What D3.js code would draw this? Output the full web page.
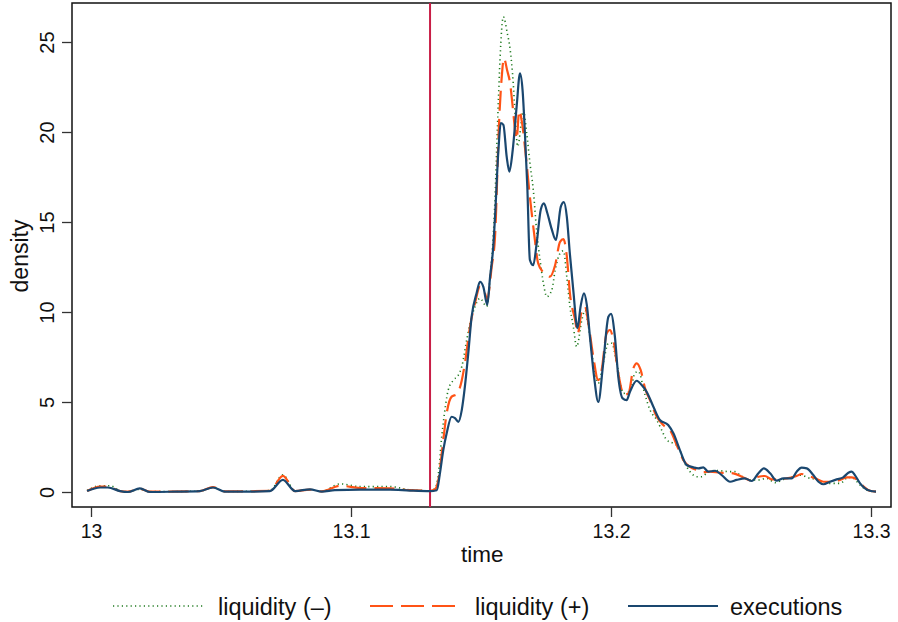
<!DOCTYPE html>
<html lang="en">
<head>
<meta charset="utf-8" />
<title>Density of liquidity and executions</title>
<script src="https://d3js.org/d3.v7.min.js"></script>
<style>
    body { margin: 0; padding: 0; background: #fff; }
    svg { display: block; font-family: "Liberation Sans", Arial, Helvetica, sans-serif; }
</style>
</head>
<body>
<svg id="chart"></svg>
<script>
    var w = 898;
    var h = 622;

    // ticks
    var xTicks = [13, 13.1, 13.2, 13.3];
    var xTickLabels = ["13", "13.1", "13.2", "13.3"];
    var yTicks = [0, 5, 10, 15, 20, 25];
    var eventTime = 13.1304;

    // series: [time, density]
    var liqMinus = [
        [12.9985, 0.08], [13.0035, 0.35], [13.0073, 0.35], [13.0112, 0.07], [13.0142, 0.02],
        [13.0188, 0.15], [13.0227, 0.02], [13.0419, 0.05], [13.0469, 0.25], [13.0515, 0.03],
        [13.0688, 0.08], [13.0738, 0.95], [13.0785, 0.05], [13.0842, 0.12], [13.0888, 0.05],
        [13.0958, 0.45], [13.1035, 0.3], [13.115, 0.3], [13.1227, 0.12], [13.1304, 0.07],
        [13.1323, 0.2], [13.1336, 1.0], [13.1349, 3.07], [13.1358, 4.2], [13.1374, 5.67],
        [13.1393, 6.2], [13.1413, 6.5], [13.1426, 6.96], [13.1445, 8.44], [13.1458, 9.37],
        [13.1477, 10.3], [13.1496, 10.76], [13.1522, 10.3], [13.1535, 11.96], [13.155, 15.0],
        [13.1567, 21.8], [13.1573, 24.0], [13.1586, 26.4], [13.1601, 25.5], [13.1612, 24.6],
        [13.1624, 22.7], [13.1631, 21.0], [13.1641, 19.2], [13.1663, 21.2], [13.1676, 19.9],
        [13.1688, 18.3], [13.1701, 16.8], [13.1714, 14.5], [13.1727, 12.9], [13.174, 11.6],
        [13.1753, 10.85], [13.1772, 11.2], [13.1785, 12.3], [13.1804, 13.26], [13.1817, 13.4],
        [13.183, 11.96], [13.1842, 10.3], [13.1855, 9.2], [13.1868, 8.07], [13.1888, 9.56],
        [13.19, 10.1], [13.1913, 9.2], [13.1932, 7.15], [13.1951, 6.04], [13.197, 7.15],
        [13.199, 8.26], [13.2003, 8.26], [13.2022, 7.15], [13.2048, 5.48], [13.2073, 5.6],
        [13.2092, 6.6], [13.2105, 6.7], [13.2131, 5.39], [13.215, 4.56], [13.2176, 4.0],
        [13.2195, 3.44], [13.2214, 2.89], [13.224, 2.7], [13.2259, 2.52], [13.2278, 1.78],
        [13.2304, 1.13], [13.233, 0.85], [13.2349, 0.85], [13.2368, 1.04], [13.24, 1.2],
        [13.2419, 1.18], [13.2458, 1.13], [13.2477, 1.13], [13.2496, 0.94], [13.2535, 0.67],
        [13.2567, 0.67], [13.2599, 0.76], [13.2631, 0.52], [13.2663, 0.7], [13.2701, 0.85],
        [13.2727, 0.94], [13.2765, 0.76], [13.2791, 0.7], [13.2823, 0.48], [13.2855, 0.48],
        [13.2881, 0.48], [13.2913, 0.81], [13.2932, 0.76], [13.2958, 0.39], [13.2983, 0.11],
        [13.3004, 0.03], [13.3019, 0.02]
    ];

    var liqPlus = [
        [12.9985, 0.05], [13.0035, 0.3], [13.0065, 0.3], [13.0112, 0.05], [13.0142, 0.02],
        [13.0188, 0.18], [13.0227, 0.02], [13.0419, 0.05], [13.0469, 0.27], [13.0515, 0.03],
        [13.0688, 0.06], [13.0738, 0.9], [13.0785, 0.05], [13.0842, 0.13], [13.0888, 0.03],
        [13.0958, 0.35], [13.1035, 0.22], [13.115, 0.2], [13.1227, 0.1], [13.1304, 0.07],
        [13.1323, 0.15], [13.1336, 0.67], [13.1355, 2.9], [13.1368, 4.37], [13.1387, 5.3],
        [13.1407, 5.44], [13.1426, 6.2], [13.1438, 7.15], [13.1458, 9.2], [13.1477, 10.5],
        [13.1496, 11.4], [13.1515, 11.04], [13.1524, 10.7], [13.1541, 12.5], [13.1554, 14.2],
        [13.157, 20.7], [13.158, 23.1], [13.1588, 24.1], [13.1601, 23.4], [13.1612, 22.7],
        [13.1622, 21.4], [13.1637, 19.6], [13.1647, 21.2], [13.1658, 20.5], [13.1673, 18.6],
        [13.1688, 16.4], [13.1704, 14.4], [13.172, 12.7], [13.174, 12.2], [13.1765, 11.96],
        [13.1785, 12.6], [13.1804, 13.9], [13.1817, 14.05], [13.183, 13.1], [13.1842, 11.04],
        [13.1862, 9.56], [13.1872, 8.8], [13.1888, 10.1], [13.19, 10.3], [13.1913, 9.37],
        [13.1932, 7.5], [13.1951, 6.22], [13.1964, 6.78], [13.1983, 8.8], [13.1996, 9.0],
        [13.2009, 8.44], [13.2028, 6.6], [13.205, 5.4], [13.2067, 5.48], [13.2086, 6.87],
        [13.2099, 7.15], [13.2114, 6.78], [13.2131, 5.76], [13.215, 5.1], [13.2176, 4.18],
        [13.2201, 3.72], [13.2227, 3.44], [13.2253, 2.6], [13.2278, 1.78], [13.2304, 1.4],
        [13.233, 1.22], [13.2355, 1.1], [13.2381, 1.13], [13.2419, 1.07], [13.247, 1.04],
        [13.2509, 0.81], [13.2541, 0.63], [13.2567, 0.85], [13.2592, 0.89], [13.2618, 0.7],
        [13.2644, 0.7], [13.2676, 0.76], [13.2714, 0.89], [13.2733, 1.0], [13.2759, 0.89],
        [13.2785, 0.76], [13.2817, 0.57], [13.2849, 0.57], [13.2881, 0.67], [13.2907, 0.81],
        [13.2926, 0.81], [13.2945, 0.7], [13.2972, 0.3], [13.2996, 0.07], [13.3019, 0.02]
    ];

    var executions = [
        [12.9985, 0.05], [13.0035, 0.25], [13.0065, 0.25], [13.0112, 0.05], [13.0142, 0.0],
        [13.0188, 0.2], [13.0227, 0.0], [13.0323, 0.02], [13.0419, 0.05], [13.0469, 0.25],
        [13.0515, 0.02], [13.0612, 0.02], [13.0688, 0.05], [13.0738, 0.67], [13.0785, 0.05],
        [13.0842, 0.15], [13.0888, 0.02], [13.0938, 0.1], [13.1035, 0.13], [13.115, 0.13],
        [13.1227, 0.08], [13.1304, 0.05], [13.133, 0.1], [13.1342, 1.04], [13.1355, 2.33],
        [13.1368, 3.26], [13.1387, 4.18], [13.14, 4.1], [13.1413, 3.9], [13.1426, 4.55],
        [13.1438, 5.85], [13.1451, 7.7], [13.1464, 9.74], [13.1483, 11.04], [13.1496, 11.68],
        [13.1509, 11.4], [13.1524, 10.4], [13.1535, 11.96], [13.1547, 13.6], [13.1554, 15.3],
        [13.1567, 19.0], [13.1576, 20.5], [13.1586, 20.4], [13.1599, 18.6], [13.1609, 17.8],
        [13.1622, 19.0], [13.1637, 21.4], [13.165, 23.26], [13.166, 22.3], [13.1669, 19.9],
        [13.1678, 17.0], [13.1688, 12.9], [13.1701, 12.6], [13.1714, 13.8], [13.173, 15.7],
        [13.1742, 16.04], [13.1755, 15.5], [13.1772, 14.6], [13.1788, 14.0], [13.1807, 15.85],
        [13.1819, 16.1], [13.183, 15.3], [13.1842, 13.2], [13.1855, 11.2], [13.1871, 9.1],
        [13.1883, 10.3], [13.1896, 11.04], [13.1907, 10.4], [13.1919, 8.63], [13.1935, 6.4],
        [13.1951, 5.0], [13.197, 7.15], [13.199, 9.74], [13.2, 9.9], [13.2015, 8.63],
        [13.2028, 6.4], [13.2045, 5.2], [13.206, 5.1], [13.2073, 5.57], [13.2099, 6.18],
        [13.2118, 5.94], [13.2137, 5.57], [13.2163, 4.74], [13.2188, 4.0], [13.222, 3.72],
        [13.224, 3.26], [13.2265, 2.33], [13.2291, 1.5], [13.2317, 1.37], [13.2336, 1.31],
        [13.2355, 1.37], [13.2374, 1.13], [13.24, 1.18], [13.2426, 0.94], [13.2458, 0.57],
        [13.2483, 0.67], [13.2515, 0.76], [13.2541, 0.61], [13.2567, 1.04], [13.2588, 1.31],
        [13.2612, 1.04], [13.2637, 0.63], [13.2663, 0.76], [13.2695, 0.76], [13.2714, 1.13],
        [13.2733, 1.35], [13.2753, 1.31], [13.2778, 0.94], [13.2798, 0.57], [13.2817, 0.43],
        [13.2842, 0.57], [13.2868, 0.7], [13.2893, 0.81], [13.2913, 1.07], [13.2926, 1.13],
        [13.2938, 0.94], [13.2958, 0.48], [13.2977, 0.2], [13.2996, 0.07], [13.3019, 0.02]
    ];

    var seriesNames = ["liquidity (\u2013)", "liquidity (+)", "executions"];

    var svg = d3.select("#chart")
        .attr("width", w)
        .attr("height", h);

    // plot frame
    var frame = { left: 72, top: 3, right: 891, bottom: 507 };

    var xScale = d3.scaleLinear()
        .domain([13, 13.3])
        .range([91, 871]);

    var yScale = d3.scaleLinear()
        .domain([0, 25])
        .range([492, 42]);

    // frame box
    svg.append("rect")
        .attr("x", frame.left)
        .attr("y", frame.top)
        .attr("width", frame.right - frame.left)
        .attr("height", frame.bottom - frame.top)
        .attr("fill", "none")
        .attr("stroke", "#111")
        .attr("stroke-width", 1.5);

    // x axis
    var xAxis = d3.axisBottom(xScale)
        .tickValues(xTicks)
        .tickFormat(function(d, i) { return xTickLabels[i]; })
        .tickSize(10)
        .tickPadding(7)
        .tickSizeOuter(0);

    var gx = svg.append("g")
        .attr("transform", "translate(0," + frame.bottom + ")")
        .call(xAxis);
    gx.select(".domain").remove();
    gx.selectAll(".tick line").attr("stroke", "#333").attr("stroke-width", 1.3);
    gx.selectAll(".tick text")
        .attr("font-size", "19.5px")
        .attr("fill", "#111")
        .attr("font-family", "Liberation Sans, Arial, sans-serif");

    // y axis
    var yAxis = d3.axisLeft(yScale)
        .tickValues(yTicks)
        .tickSize(10)
        .tickSizeOuter(0);

    var gy = svg.append("g")
        .attr("transform", "translate(" + frame.left + ",0)")
        .call(yAxis);
    gy.select(".domain").remove();
    gy.selectAll(".tick line").attr("stroke", "#333").attr("stroke-width", 1.3);
    gy.selectAll(".tick text")
        .attr("font-size", "20px")
        .attr("fill", "#111")
        .attr("font-family", "Liberation Sans, Arial, sans-serif")
        .attr("text-anchor", "middle")
        .attr("x", 0)
        .attr("dy", 0)
        .attr("transform", "translate(-18,0) rotate(-90)");

    // axis titles
    svg.append("text")
        .attr("x", xScale(13.1505))
        .attr("y", 562)
        .attr("text-anchor", "middle")
        .attr("font-size", "22.5px")
        .attr("fill", "#111")
        .text("time");

    svg.append("text")
        .attr("transform", "translate(28,256) rotate(-90)")
        .attr("text-anchor", "middle")
        .attr("font-size", "23px")
        .attr("fill", "#111")
        .text("density");

    // event line
    svg.append("line")
        .attr("x1", xScale(eventTime))
        .attr("x2", xScale(eventTime))
        .attr("y1", frame.top)
        .attr("y2", frame.bottom)
        .attr("stroke", "#c81e46")
        .attr("stroke-width", 2);

    var line = d3.line()
        .x(function(d) { return xScale(d[0]); })
        .y(function(d) { return yScale(d[1]); })
        .curve(d3.curveMonotoneX);

    var styles = [
        { data: liqMinus, color: "#1f7a1f", width: 1.6, dash: "1.2,3.2" },
        { data: liqPlus, color: "#ff5316", width: 2.2, dash: "20,8" },
        { data: executions, color: "#1a476f", width: 2.2, dash: null }
    ];

    styles.forEach(function(s) {
        svg.append("path")
            .datum(s.data)
            .attr("d", line)
            .attr("fill", "none")
            .attr("stroke", s.color)
            .attr("stroke-width", s.width)
            .attr("stroke-dasharray", s.dash)
            .attr("stroke-linejoin", "round");
    });

    // legend
    var legendX = [113, 370, 628];
    var legendTextX = [218, 475, 730];
    var legend = svg.append("g");
    styles.forEach(function(s, i) {
        legend.append("line")
            .attr("x1", legendX[i])
            .attr("x2", legendX[i] + 90)
            .attr("y1", 606)
            .attr("y2", 606)
            .attr("stroke", s.color)
            .attr("stroke-width", s.width)
            .attr("stroke-dasharray", s.dash === null ? null : (i === 1 ? "23,8" : s.dash));
        legend.append("text")
            .attr("x", legendTextX[i])
            .attr("y", 615)
            .attr("font-size", "23.5px")
            .attr("fill", "#111")
            .text(seriesNames[i]);
    });
</script>
</body>
</html>
